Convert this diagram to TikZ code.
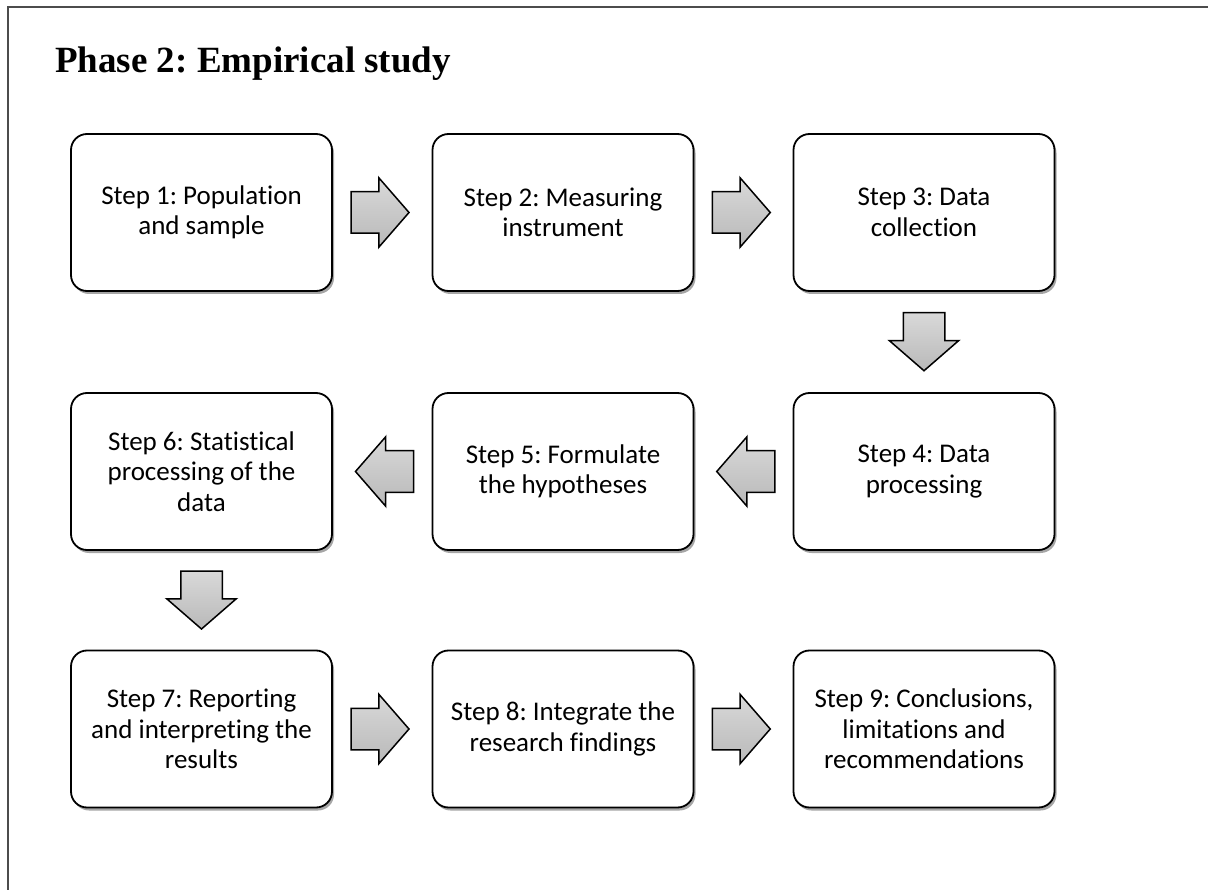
\documentclass[tikz,border=0pt]{standalone}
\usepackage{fontspec}
\setmainfont{Carlito}[Ligatures=NoCommon]
\newfontfamily\titlefont{Liberation Serif}
\usetikzlibrary{shapes.arrows,shadows,calc}
\frenchspacing
\tikzset{
  stepbox/.style={draw, line width=1.8pt, rounded corners=16pt,
    minimum width=261pt, minimum height=157pt, align=center,
    font=\fontsize{27}{30.5}\selectfont, fill=white,
    drop shadow={shadow xshift=2pt, shadow yshift=-3pt, opacity=0.35, fill=black}},
  blockarrow/.style={single arrow, draw=black, line width=1.5pt, inner sep=0pt,
    inner ysep=20pt, minimum height=58pt, single arrow head extend=14pt,
    single arrow tip angle=98, top color=gray!30, bottom color=gray!55, anchor=tail},
}
\begin{document}
\begin{tikzpicture}[x=1pt,y=-1pt]
\useasboundingbox (0,0) rectangle (1208,890);
\draw[line width=1.5pt, black!70] (8,890) -- (8,7) -- (1208,7);
\node[anchor=base west, inner sep=0pt, font=\titlefont\bfseries\fontsize{37}{44}\selectfont] (title) at (55,73) {Phase 2: Empirical study};

\node[stepbox] (b1) at (201.5,212.5) {Step 1: Population\\and sample};
\node[stepbox] (b2) at (563,212.5) {Step 2: Measuring\\instrument};
\node[stepbox] (b3) at (924,212.5) {Step 3: Data\\collection};
\node[stepbox] (b4) at (924,471.5) {Step 4: Data\\processing};
\node[stepbox] (b5) at (563,471.5) {Step 5: Formulate\\the hypotheses};
\node[stepbox] (b6) at (201.5,471.5) {Step 6: Statistical\\processing of the\\data};
\node[stepbox] (b7) at (201.5,729) {Step 7: Reporting\\and interpreting the\\results};
\node[stepbox] (b8) at (563,729) {Step 8: Integrate the\\research findings};
\node[stepbox] (b9) at (924,729) {Step 9: Conclusions,\\limitations and\\recommendations};

\node[blockarrow] (a12) at ($(b1.east)!0.5!(b2.west)+(-32,0)$) {};
\node[blockarrow] (a23) at ($(b2.east)!0.5!(b3.west)+(-32,0)$) {};
\node[blockarrow, rotate=-90] (a34) at ($(b3.south)!0.5!(b4.north)+(0,-30)$) {};
\node[blockarrow, rotate=180] (a45) at ($(b4.west)!0.5!(b5.east)+(32,0)$) {};
\node[blockarrow, rotate=180] (a56) at ($(b5.west)!0.5!(b6.east)+(32,0)$) {};
\node[blockarrow, rotate=-90] (a67) at ($(b6.south)!0.5!(b7.north)+(0,-30)$) {};
\node[blockarrow] (a78) at ($(b7.east)!0.5!(b8.west)+(-32,0)$) {};
\node[blockarrow] (a89) at ($(b8.east)!0.5!(b9.west)+(-32,0)$) {};
\end{tikzpicture}
\end{document}
